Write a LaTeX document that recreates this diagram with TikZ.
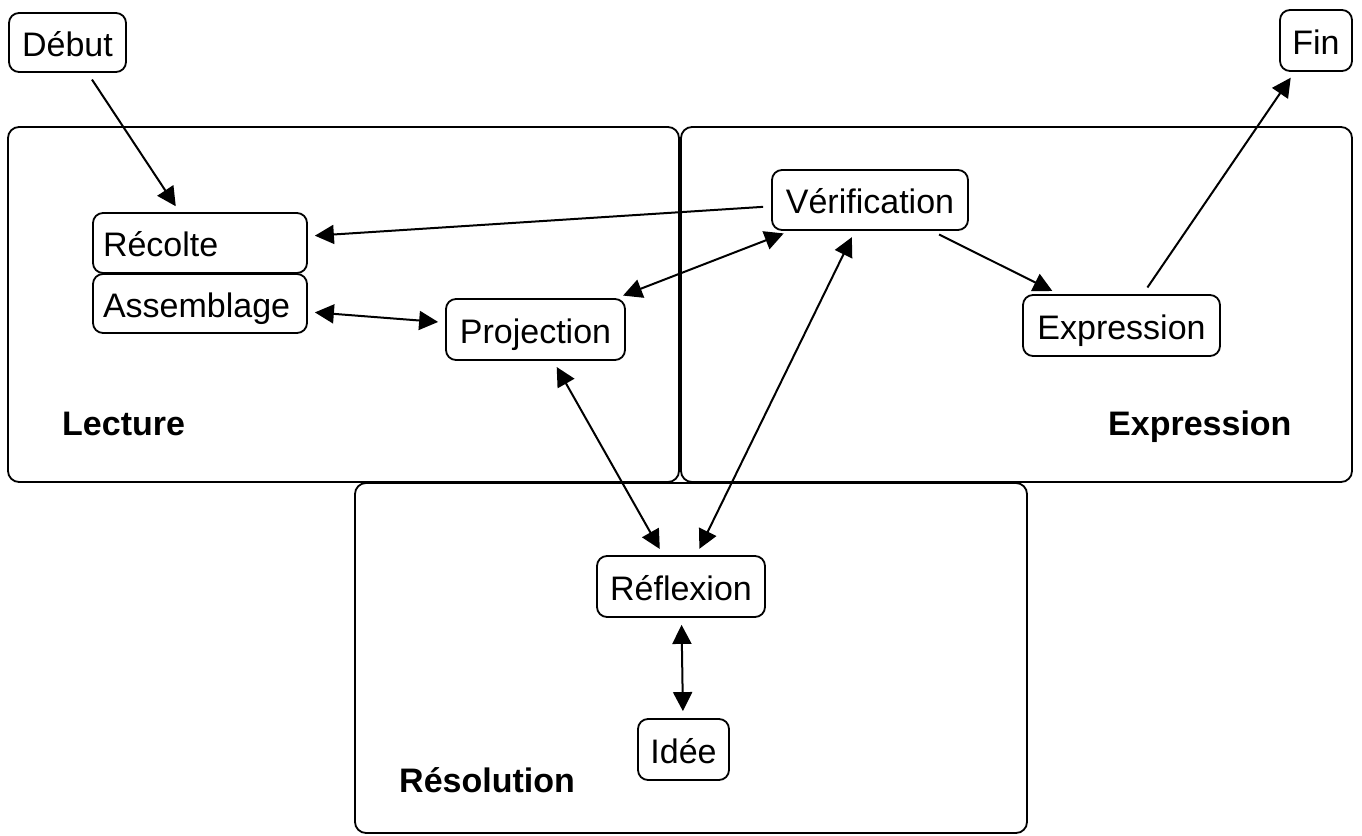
\documentclass[tikz,border=0pt]{standalone}
\usepackage{fontspec}
\setmainfont{Liberation Sans}
\usetikzlibrary{arrows.meta}
\begin{document}
\begin{tikzpicture}[x=1pt,y=-1pt,
  box/.style={draw, line width=1.8pt, rounded corners=10pt, fill=white, inner sep=0pt,
    font=\fontsize{34}{40}\selectfont, minimum height=60pt, text height=32pt, text depth=5pt},
  region/.style={draw, line width=1.8pt, rounded corners=11pt, inner sep=0pt},
  title/.style={font=\bfseries\fontsize{34}{40}\selectfont, inner sep=0pt, anchor=base west},
  tip/.tip={Triangle[length=19pt,width=19pt]},
  arr/.style={line width=2pt, -tip, shorten >=7pt, shorten <=8pt},
  biarr/.style={arr, tip-tip, shorten <=7pt}
]
\useasboundingbox (0,0) rectangle (1362,835);

% regions
\node[region, minimum width=671pt, minimum height=355pt] (lecturebox) at (343.5,304.5) {};
\node[region, minimum width=671pt, minimum height=355pt] (exprbox) at (1016.5,304.5) {};
\node[region, minimum width=672pt, minimum height=350pt] (resbox) at (691,658) {};

% region titles
\node[title] (lecturelbl) at (62,435) {Lecture};
\node[title] (exprlbl) at (1108,435) {Expression};
\node[title] (reslbl) at (399,792) {Résolution};

% nodes
\node[box, minimum width=117pt, minimum height=59pt] (debut) at (67.5,42.5) {Début};
\node[box, minimum width=72pt, minimum height=61pt] (fin) at (1316,40.5) {Fin};
\node[box, text width=194pt, inner xsep=10pt, align=left, minimum height=60pt] (recolte) at (200,243) {Récolte};
\node[box, text width=194pt, inner xsep=10pt, align=left, minimum height=59pt] (assemblage) at (200,303.5) {Assemblage};
\node[box, minimum width=179pt, minimum height=61pt] (projection) at (535.5,329.5) {Projection};
\node[box, minimum width=196pt, minimum height=60pt] (verification) at (870,200) {Vérification};
\node[box, minimum width=197pt, minimum height=61pt] (expression) at (1121.5,325.5) {Expression};
\node[box, minimum width=168pt, minimum height=61pt] (reflexion) at (681,586.5) {Réflexion};
\node[box, minimum width=91pt, minimum height=61pt] (idee) at (683.5,749.5) {Idée};

% connectors
\draw[arr] (debut) -- (recolte);
\draw[arr] (verification) -- (recolte);
\draw[biarr] (assemblage) -- (projection);
\draw[biarr] (projection) -- (verification);
\draw[biarr] (projection) -- (reflexion);
\draw[biarr] (verification) -- (reflexion);
\draw[arr] (verification) -- (expression);
\draw[arr] (expression) -- (fin);
\draw[biarr] (reflexion) -- (idee);
\end{tikzpicture}
\end{document}
